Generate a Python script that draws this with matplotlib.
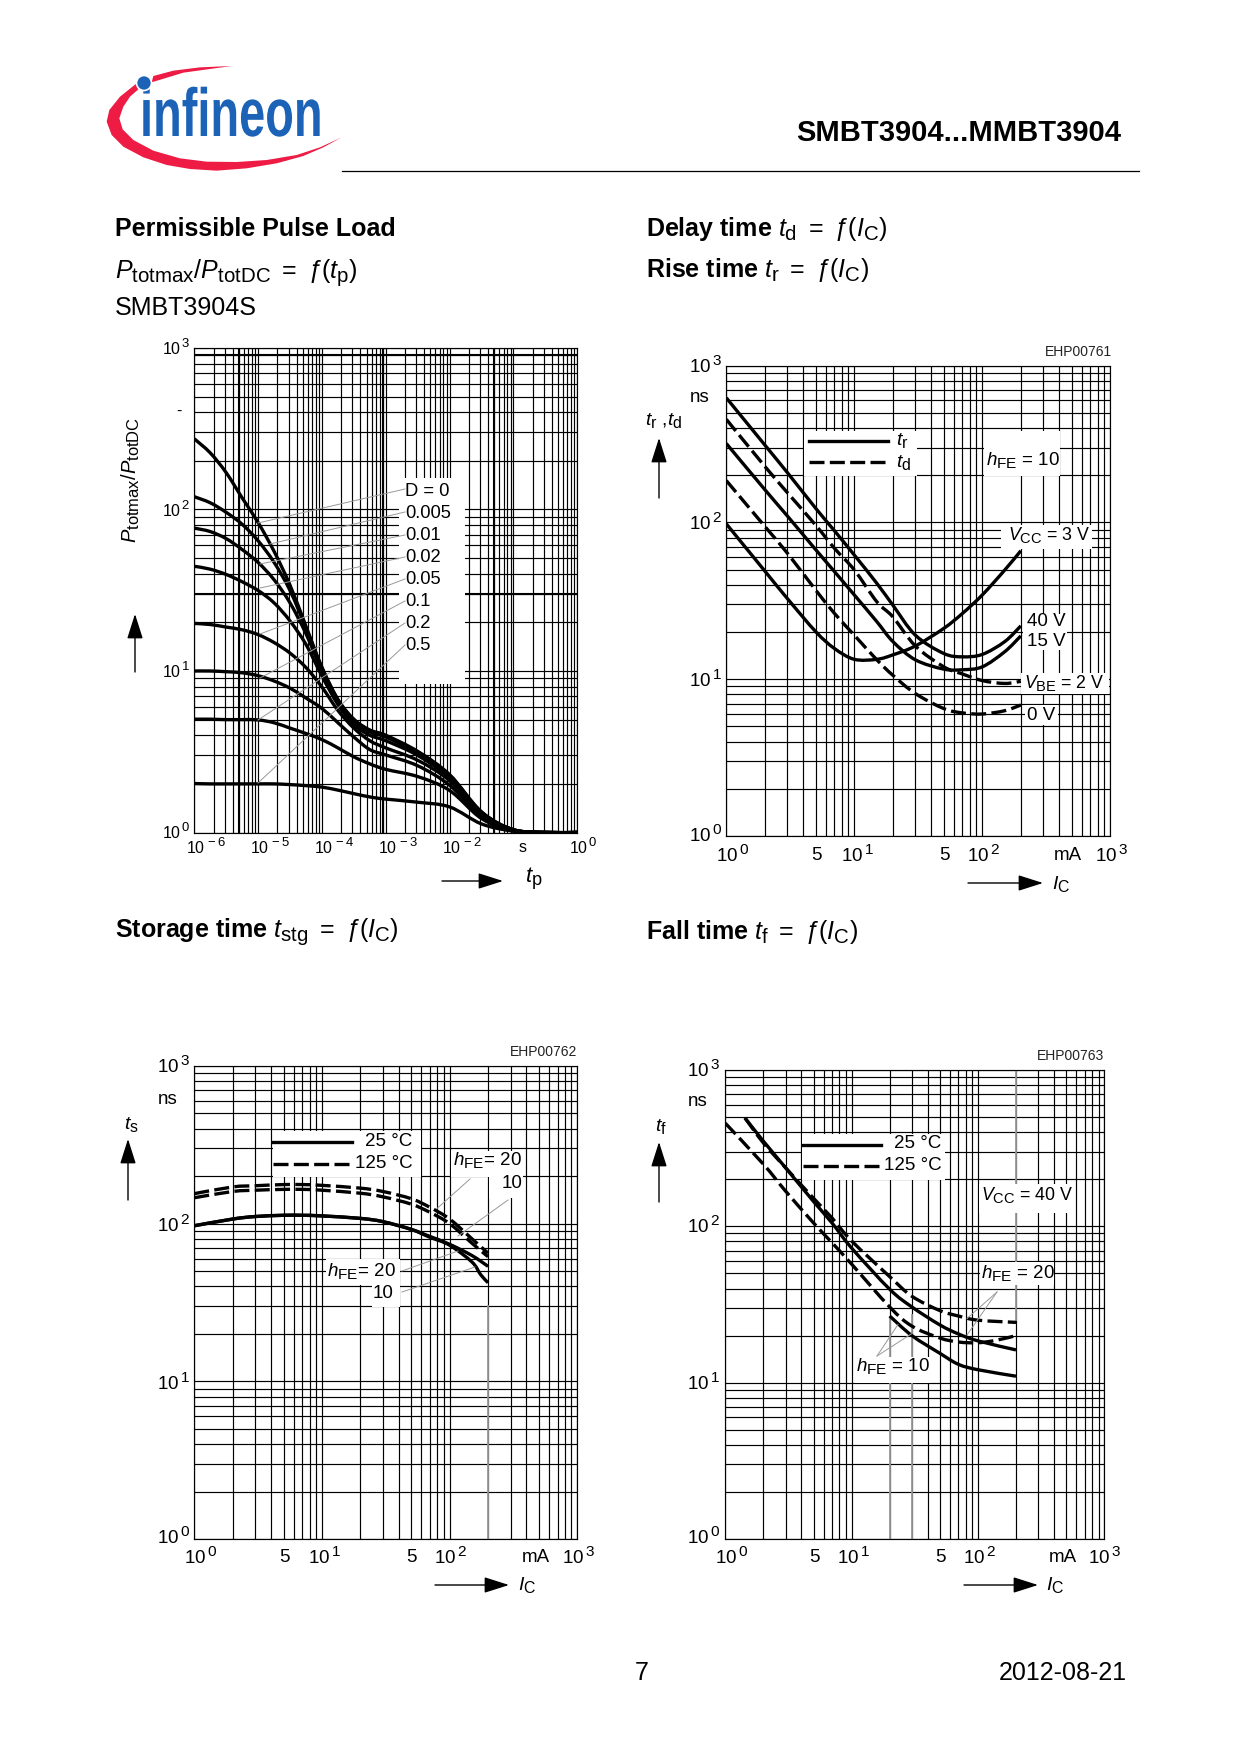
import numpy as np
import matplotlib
matplotlib.use('Agg')
import matplotlib.pyplot as plt
import matplotlib._mathtext as mathtext_internal
from matplotlib.patches import Rectangle, Polygon, Circle, PathPatch
from matplotlib.patheffects import AbstractPathEffect
from matplotlib.path import Path
from matplotlib.ticker import LogLocator, NullFormatter
from matplotlib.transforms import Affine2D

plt.rcParams['font.family'] = ['Liberation Sans', 'DejaVu Sans']
plt.rcParams['mathtext.fontset'] = 'custom'
plt.rcParams['mathtext.rm'] = 'Liberation Sans'
plt.rcParams['mathtext.it'] = 'Liberation Sans:italic'
plt.rcParams['mathtext.bf'] = 'Liberation Sans:bold'
mathtext_internal.SHRINK_FACTOR = 0.82  # subscripts in the datasheet are large

# pulse load, values
tp = [1e-6, 1.78e-6, 3.16e-6, 5.62e-6, 1e-5, 1.78e-5, 3.16e-5, 5.62e-5, 1e-4, 1.78e-4, 3.16e-4,
      5.62e-4, 1e-3, 3.16e-3, 1e-2, 3.16e-2, 1e-1, 3.16e-1, 1]
d_0 = [274, 224, 169, 118, 83, 55, 34, 18.9, 10.5, 6.65, 5.03, 4.31, 4.0, 3.18, 2.28, 1.34, 1.04, 1, 1]
d_005 = [120, 110, 96, 81, 64, 47, 31.5, 18.4, 10.5, 6.65, 4.98, 4.27, 3.96, 3.15, 2.26, 1.34, 1.04, 1, 1]
d_01 = [76.7, 73, 66, 56.5, 47, 36.7, 26.4, 17, 10, 6.5, 4.9, 4.2, 3.9, 3.1, 2.22, 1.32, 1.04, 1, 1]
d_02 = [44.5, 42.7, 39.6, 35.7, 31.5, 26.4, 20.4, 14.6, 9.3, 6.2, 4.66, 4.0, 3.7, 3.0, 2.17, 1.3, 1.04, 1, 1]
d_05 = [19.7, 19.4, 18.7, 18, 16.8, 15, 12.9, 10.5, 7.95, 5.7, 4.43, 3.7, 3.34, 2.8, 2.09, 1.28, 1.03, 1, 1]
d_1 = [10, 10, 9.9, 9.75, 9.35, 8.67, 7.83, 6.8, 5.86, 4.78, 3.9, 3.26, 3.02, 2.59, 1.96, 1.26, 1.03, 1, 1]
d_2 = [5.03, 5.03, 5.0, 5.0, 4.98, 4.78, 4.43, 4.1, 3.76, 3.34, 2.94, 2.66, 2.46, 2.22, 1.82, 1.22, 1.02, 1, 1]
d_5 = [2.01, 2.0, 2.0, 2.0, 2.0, 2.0, 1.98, 1.95, 1.91, 1.83, 1.74, 1.66, 1.61, 1.54, 1.44, 1.13, 1.02, 1, 1]
d_curves = [d_0, d_005, d_01, d_02, d_05, d_1, d_2, d_5]
d_labels = ['D = 0', '0.005', '0.01', '0.02', '0.05', '0.1', '0.2', '0.5']

# delay / rise time
ic_b = [1, 2, 3, 5, 7, 10, 15, 20, 30, 50, 70, 100, 150, 200]
tr_40 = [624, 312, 208, 123, 88.5, 62, 40.9, 29.7, 19.1, 14.6, 13.9, 14.4, 17.4, 21.9]
tr_15 = [319, 162, 110, 67, 48.6, 34.5, 23.3, 17.4, 13.3, 11.6, 11.5, 12, 15, 18.9]
tr_3 = [98, 49, 32.7, 20.1, 15.7, 13.4, 13.4, 14.3, 16.3, 21.1, 26.3, 34.5, 49.8, 66]
td_2 = [455, 228, 155, 96, 68.4, 49.8, 31.2, 25, 16.3, 12, 10.8, 9.8, 9.4, 9.7]
td_0 = [185, 94.4, 63.7, 37, 26.3, 19.1, 13.3, 10.6, 8.1, 6.5, 6.1, 6.0, 6.3, 6.85]

# storage time
ic_c = [1, 2, 3, 5, 7, 10, 20, 30, 50, 70, 100, 150, 200]
ts_25_20 = [97, 107, 111, 113, 113, 112, 108, 103, 92, 83, 74, 62.7, 53.6]
ic_c10 = [1, 2, 3, 5, 7, 10, 20, 30, 50, 70, 100, 150, 175, 200]
ts_25_10 = [97, 107, 111, 113, 113, 112, 108, 103, 92, 82, 73, 57, 47.5, 42.2]
ts_125_20 = [155, 171, 174, 177, 177, 175, 168, 160, 144, 127, 107, 80, 65]
ts_125_10 = [146, 160, 163, 165, 165, 163, 156, 148, 133, 118, 100, 75, 61.7]

# fall time
ic_d = [1.43, 2, 3, 5, 7, 10, 20, 30, 50, 70, 100, 200]
tf_25_20 = [494, 351, 237, 144, 105, 72.6, 39.6, 30.5, 23.4, 20.5, 18.5, 16.2]
tf_125_20 = [494, 342, 237, 151, 113, 80.6, 47.7, 35.7, 28.9, 26.7, 25.1, 24.3]
ic_d10 = [20, 30, 50, 70, 100, 200]
tf_25_10 = [26.7, 20, 15.4, 13.1, 12.1, 11]
ic_d125 = [1, 2, 3, 5, 7, 10, 20, 30, 50, 70, 100, 141, 200]
tf_125_10 = [457, 250, 168, 105, 78.5, 57.3, 30.5, 23, 19.3, 18.2, 18, 18.7, 20]

fig = plt.figure(figsize=(12.4, 17.54), dpi=100)

# page layer in pixels, for all the texts and annotation lines
page = fig.add_axes([0, 0, 1, 1], zorder=5)
page.set_xlim(0, 1240)
page.set_ylim(1754, 0)
page.axis('off')


class Squeeze(AbstractPathEffect):
    # condensed lettering for the logo, the text stays a text
    def __init__(self, x0, y0, sx):
        super().__init__()
        self.move = Affine2D().translate(-x0, -y0).scale(sx, 1).translate(x0, y0)

    def draw_path(self, renderer, gc, tpath, affine, rgbFace=None):
        renderer.draw_path(gc, tpath, affine + self.move, rgbFace)


def graph(x0, x1, y0, y1, xlim, ylim, whites):
    ax = fig.add_axes([x0/1240, 1-y1/1754, (x1-x0)/1240, (y1-y0)/1754])
    ax.set_xscale('log')
    ax.set_yscale('log')
    ax.set_xlim(xlim)
    ax.set_ylim(ylim)
    for axis in [ax.xaxis, ax.yaxis]:
        axis.set_major_locator(LogLocator(base=10, numticks=20))
        axis.set_minor_locator(LogLocator(base=10, subs=np.arange(2, 10), numticks=20))
        axis.set_major_formatter(NullFormatter())
        axis.set_minor_formatter(NullFormatter())
    ax.tick_params(which='both', length=0)
    ax.grid(which='both', color='black', linewidth=0.85)
    ax.set_axisbelow(True)
    for s in ax.spines.values():
        s.set_linewidth(0.85)
    for w in whites:
        ax.add_patch(Rectangle((w[0], w[2]), w[1]-w[0], w[3]-w[2], facecolor='white',
                               edgecolor='none', transform=page.transData, zorder=1))
    return ax


def curve(ax, xs, ys, **kw):
    # smooth bezier through the read points, control points taken in log space
    p = np.column_stack([np.log10(xs), np.log10(ys)])
    verts = [p[0]]
    codes = [Path.MOVETO]
    for i in range(len(p)-1):
        a, b, c, d = p[max(i-1, 0)], p[i], p[i+1], p[min(i+2, len(p)-1)]
        verts += [b+(c-a)/6, c-(d-b)/6, c]
        codes += [Path.CURVE4]*3
    ax.add_patch(PathPatch(Path(10**np.array(verts), codes), fill=False, zorder=2, **kw))


def txt(x, y, s, size=13.5, ha='left', **kw):
    page.text(x, y, s, fontsize=size, ha=ha, va='center', **kw)


def dec(n):
    return r'$\mathrm{10}^{\,%d}$' % n


def arrow(x0, y0, x1, y1):
    page.annotate('', xy=(x1, y1), xytext=(x0, y0),
                  arrowprops=dict(arrowstyle='-|>,head_length=1.1,head_width=0.35', color='black',
                                  lw=1, shrinkA=0, shrinkB=0, mutation_scale=14))


def leaders(pts):
    for p in pts:
        page.plot([p[0], p[2]], [p[1], p[3]], color='#999999', linewidth=0.7)


solid = dict(color='black', linewidth=2.4)
dashed = dict(color='black', linewidth=2.4, linestyle=(0, (4.5, 1.6)))
F = r'\mathit{ƒ}'

# header and footer
txt(1121, 133, 'SMBT3904...MMBT3904', size=21, ha='right', weight='bold')
page.plot([342, 1139], [171, 171], color='black', linewidth=0.9)
txt(642, 1673, '7', size=18, ha='center')
txt(1127, 1673, '2012-08-21', size=18, ha='right')

# logo
swoosh = [(425, 48), (330, 52), (250, 62), (190, 78), (185, 97), (280, 68), (425, 48)]
arc = [(140, 100), (90, 140), (58, 180), (50, 215), (65, 255), (100, 290), (160, 322), (230, 345),
       (300, 357), (380, 362), (470, 355), (560, 340), (640, 318), (700, 292), (755, 262),
       (690, 292), (620, 315), (530, 330), (440, 336), (350, 335), (270, 325), (190, 302),
       (130, 270), (98, 238), (88, 205), (100, 170), (120, 140), (145, 118)]
for shape in [swoosh, arc]:
    page.add_patch(Polygon([(90+p[0]/3, 50+p[1]/3) for p in shape], facecolor='#ee1c44', edgecolor='none'))
logo_x, logo_y = page.transData.transform((140, 136))
page.text(140, 136, 'infineon', fontsize=49, color='#1c63b7', weight='bold', ha='left', va='baseline',
          path_effects=[Squeeze(logo_x, logo_y, 0.69)])
page.add_patch(Circle((144, 83), 7.5, facecolor='#1c63b7', edgecolor='white', linewidth=1.2, zorder=4))

# headings
txt(115, 229, 'Permissible Pulse Load', size=18, weight='bold')
txt(115, 273, r'$P_{\mathrm{totmax}}/P_{\mathrm{totDC}}\ =\ %s(t_{\mathrm{p}})$' % F, size=18)
txt(115, 308, 'SMBT3904S', size=18)
txt(646, 229, r'Delay time $t_{\mathrm{d}}\ =\ %s(I_{\mathrm{C}})$' % F, size=18, weight='bold')
txt(646, 270, r'Rise time $t_{\mathrm{r}}\ =\ %s(I_{\mathrm{C}})$' % F, size=18, weight='bold')
txt(115, 932, r'Storage time $t_{\mathrm{stg}}\ =\ %s(I_{\mathrm{C}})$' % F, size=18, weight='bold')
txt(646, 932, r'Fall time $t_{\mathrm{f}}\ =\ %s(I_{\mathrm{C}})$' % F, size=18, weight='bold')

# permissible pulse load
ax_a = graph(194.3, 577.3, 348, 832.5, (1e-6, 1), (1, 1000), [(399, 465, 478, 683.5)])
for x in [5e-6, 9e-4, 5e-2]:
    ax_a.axvline(x, color='black', linewidth=1.5, zorder=0.8)
for y in [30, 900]:
    ax_a.axhline(y, color='black', linewidth=1.5, zorder=0.8)
for c in d_curves:
    curve(ax_a, tp, c, **solid)
ys_a = [492, 514, 536, 557, 579, 601, 623, 645]
for y, s in zip(ys_a, d_labels):
    txt(405, y, s, size=13.2)
leaders([(405, 489, 258, 523), (405, 512, 270, 544), (405, 535, 260, 564), (405, 557, 260, 588),
         (405, 579, 260, 634), (405, 601, 260, 678), (405, 623, 258, 720), (405, 645, 258, 783)])
for y, n in zip([348, 510, 671, 832], [3, 2, 1, 0]):
    txt(162, y, dec(n), size=11.5)
for x, n in zip([186, 250, 314, 378, 442, 569], [-6, -5, -4, -3, -2, 0]):
    txt(x, 847, dec(n), size=11.5)
txt(523, 847, 's', size=11.5, ha='center')
txt(179, 411, '-', size=11.5, ha='center')
txt(131, 480, r'$P_{\mathrm{totmax}}/P_{\mathrm{totDC}}$', size=14.5, ha='center', rotation=90)
arrow(135, 672, 135, 614)
arrow(442, 881, 503, 881)
txt(525, 879, r'$t_{\mathrm{p}}$', size=16)

# delay and rise time
ax_b = graph(726.3, 1110.3, 365.7, 836, (1, 1000), (1, 1000),
             [(804, 917, 431, 476), (984, 1060, 431, 476), (1001, 1092, 525, 548.5),
              (1023, 1067, 614, 649.5), (1021, 1109, 673, 694), (1025, 1058, 705, 724.5)])
for c in [tr_40, tr_15, tr_3]:
    curve(ax_b, ic_b, c, **solid)
for c in [td_2, td_0]:
    curve(ax_b, ic_b, c, **dashed)
for y, n in zip([366, 523, 680, 835], [3, 2, 1, 0]):
    txt(689, y, dec(n))
txt(690, 397, 'ns')
txt(645, 420, r'$t_{\mathrm{r}}$ ,$t_{\mathrm{d}}$', size=14)
arrow(659, 498, 659, 438)
for x, s in zip([716, 841, 967, 1095], [dec(0), dec(1), dec(2), dec(3)]):
    txt(x, 855, s)
txt(816, 855, '5', ha='center')
txt(944, 855, '5', ha='center')
txt(1054, 855, 'mA')
arrow(968, 883, 1043, 883)
txt(1052, 884, r'$I_{\mathrm{C}}$', size=14)
txt(1112, 352, 'EHP00761', size=10, ha='right', color='#222222')
page.plot([809, 888], [441, 441], **solid)
page.plot([809, 888], [462, 462], **dashed)
txt(896, 441, r'$t_{\mathrm{r}}$', size=14)
txt(896, 462, r'$t_{\mathrm{d}}$', size=14)
txt(986, 460, r'$h_{\mathrm{FE}}$ = 10')
txt(1008, 535, r'$V_{\mathrm{CC}}$ = 3 V', size=12.8)
txt(1027, 622, '40 V')
txt(1027, 641, '15 V')
txt(1024, 683, r'$V_{\mathrm{BE}}$ = 2 V', size=12.8)
txt(1027, 715, '0 V')

# storage time
ax_c = graph(194.3, 577.3, 1066, 1539, (1, 1000), (1, 1000),
             [(273, 421, 1131, 1177), (451, 523, 1151, 1177), (489, 522, 1177, 1198),
              (326, 400, 1258.5, 1285), (372, 400, 1285, 1307)])
ax_c.plot([200, 200], [1, 30], color='#999999', linewidth=1.3, zorder=0.8)
curve(ax_c, ic_c, ts_25_20, **solid)
curve(ax_c, ic_c10, ts_25_10, **solid)
curve(ax_c, ic_c, ts_125_20, **dashed)
curve(ax_c, ic_c, ts_125_10, **dashed)
for y, n in zip([1066, 1225, 1383, 1537], [3, 2, 1, 0]):
    txt(157, y, dec(n))
txt(158, 1099, 'ns')
txt(124, 1124, r'$t_{\mathrm{s}}$', size=14)
arrow(128, 1200, 128, 1139)
for x, s in zip([184, 308, 434, 562], [dec(0), dec(1), dec(2), dec(3)]):
    txt(x, 1557, s)
txt(284, 1557, '5', ha='center')
txt(411, 1557, '5', ha='center')
txt(522, 1557, 'mA')
arrow(435, 1585, 509, 1585)
txt(518, 1585, r'$I_{\mathrm{C}}$', size=14)
txt(577, 1052, 'EHP00762', size=10, ha='right', color='#222222')
page.plot([273, 352], [1142, 1142], **solid)
page.plot([273, 352], [1163.5, 1163.5], **dashed)
txt(365, 1141, '25 °C')
txt(355, 1164, '125 °C')
txt(453, 1160, r'$h_{\mathrm{FE}}$= 20')
txt(502, 1183.5, '10')
txt(327, 1271, r'$h_{\mathrm{FE}}$= 20')
txt(373, 1294, '10')
leaders([(470, 1179, 437, 1208.5), (508, 1200, 458, 1236), (402, 1271, 458, 1251), (402, 1292, 475, 1267)])

# fall time
ax_d = graph(725.3, 1104.3, 1070, 1539, (1, 1000), (1, 1000),
             [(802, 945, 1134, 1180), (979, 1074, 1184, 1213), (980, 1054, 1262, 1285), (855, 930, 1357, 1383)])
for x, y0, y1 in [(20, 1, 26), (30, 1, 27), (200, 25, 1000)]:
    ax_d.plot([x, x], [y0, y1], color='#999999', linewidth=1.3, zorder=0.8)
curve(ax_d, ic_d, tf_25_20, **solid)
curve(ax_d, ic_d10, tf_25_10, **solid)
curve(ax_d, ic_d, tf_125_20, **dashed)
curve(ax_d, ic_d125, tf_125_10, **dashed)
for y, n in zip([1070, 1226, 1383, 1537], [3, 2, 1, 0]):
    txt(687, y, dec(n))
txt(688, 1101, 'ns')
txt(655, 1126, r'$t_{\mathrm{f}}$', size=14)
arrow(659, 1202, 659, 1142)
for x, s in zip([715, 837, 963, 1088], [dec(0), dec(1), dec(2), dec(3)]):
    txt(x, 1557, s)
txt(814, 1557, '5', ha='center')
txt(940, 1557, '5', ha='center')
txt(1049, 1557, 'mA')
arrow(964, 1585, 1038, 1585)
txt(1046, 1585, r'$I_{\mathrm{C}}$', size=14)
txt(1104, 1056, 'EHP00763', size=10, ha='right', color='#222222')
page.plot([803, 881], [1145, 1145], **solid)
page.plot([803, 881], [1166, 1166], **dashed)
txt(894, 1144, '25 °C')
txt(884, 1166, '125 °C')
txt(981, 1195, r'$V_{\mathrm{CC}}$ = 40 V', size=12.8)
txt(981, 1273, r'$h_{\mathrm{FE}}$ = 20')
txt(856, 1366, r'$h_{\mathrm{FE}}$ = 10')
leaders([(997, 1292, 967, 1318.5), (997, 1292, 967, 1335), (877, 1356, 898, 1324.5), (877, 1356, 912, 1333.5)])

fig.savefig('out.png', dpi=100)
